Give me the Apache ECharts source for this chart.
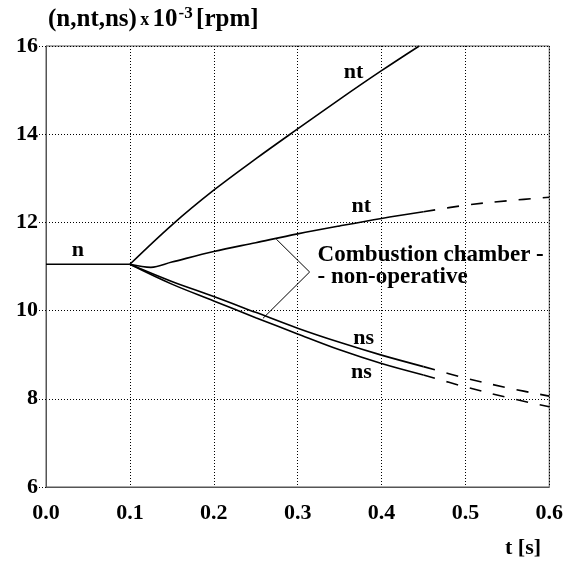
<!DOCTYPE html>
<html>
<head>
<meta charset="utf-8">
<script src="https://cdn.jsdelivr.net/npm/echarts@6/dist/echarts.min.js"></script>
<style>
  html, body { margin: 0; padding: 0; background: #fff; }
  #main { width: 566px; height: 563px; }
</style>
</head>
<body>
<div id="main"></div>
<script>
// time axis [s] and speeds [rpm x 10^-3]
var tN = [0, 0.1];
var nVals = [11.05, 11.05];

var tNtUp = [0.1, 0.15, 0.2, 0.25, 0.3, 0.35, 0.4, 0.445];
var ntUpVals = [11.05, 11.94, 12.73, 13.44, 14.12, 14.79, 15.44, 16.0];

var tNtLow = [0.1, 0.125, 0.15, 0.2, 0.25, 0.3, 0.35, 0.4, 0.45];
var ntLowVals = [11.05, 10.98, 11.1, 11.34, 11.54, 11.74, 11.92, 12.09, 12.24];
var tNtLowDash = [0.45, 0.5, 0.55, 0.6];
var ntLowDashVals = [12.24, 12.39, 12.49, 12.57];

var tNs = [0.1, 0.15, 0.2, 0.25, 0.3, 0.35, 0.4, 0.45];
var nsUpVals = [11.05, 10.66, 10.32, 9.96, 9.6, 9.28, 8.99, 8.73];
var nsLowVals = [11.05, 10.6, 10.22, 9.84, 9.47, 9.11, 8.8, 8.54];
var tNsDash = [0.45, 0.5, 0.55, 0.6];
var nsUpDashVals = [8.73, 8.47, 8.25, 8.06];
var nsLowDashVals = [8.54, 8.27, 8.03, 7.82];

// bracket pointing at the curves of the non-operative case
var tBracket = [0.2746, 0.3143, 0.2587];
var bracketVals = [11.62, 10.875, 9.825];

var xTicks = ['0.0', '0.1', '0.2', '0.3', '0.4', '0.5', '0.6'];

var FONT = '"Liberation Serif", "Times New Roman", serif';

function zip(xs, ys) {
  return xs.map(function (x, i) { return [x, ys[i]]; });
}

var myChart = echarts.init(document.getElementById('main'));

var solid = { color: '#000', width: 1.6, type: 'solid' };
var dashed = { color: '#000', width: 1.6, type: [12, 12] };

function lineSeries(data, style) {
  return {
    type: 'line',
    data: data,
    symbol: 'none',
    smooth: 0.35,
    lineStyle: style,
    silent: true
  };
}

var labelFont = { fontFamily: FONT, fontWeight: 'bold', fontSize: 22, color: '#000' };

var option = {
  animation: false,
  backgroundColor: '#fff',
  grid: {
    left: 46, right: 16, top: 46, bottom: 76,
    show: true, borderColor: '#555', borderWidth: 1
  },
  xAxis: {
    type: 'value',
    min: 0, max: 0.6, interval: 0.1,
    axisLine: { show: true, lineStyle: { color: '#555', width: 1 } },
    axisTick: { show: false },
    axisLabel: {
      margin: 15,
      fontFamily: FONT, fontWeight: 'bold', fontSize: 22, color: '#000',
      formatter: function (v) { return xTicks[Math.round(v * 10)]; }
    },
    splitLine: { show: true, lineStyle: { color: '#000', width: 1, type: [1, 2] } }
  },
  yAxis: {
    type: 'value',
    min: 6, max: 16, interval: 2,
    axisLine: { show: true, lineStyle: { color: '#555', width: 1 } },
    axisTick: { show: true, length: 7, lineStyle: { color: '#000', type: [1, 2] } },
    axisLabel: {
      margin: 8,
      fontFamily: FONT, fontWeight: 'bold', fontSize: 22, color: '#000'
    },
    splitLine: { show: true, lineStyle: { color: '#000', width: 1, type: [1, 2] } }
  },
  graphic: [
    {
      type: 'text',
      left: 48, top: 5,
      style: {
        text: '{b|(n,nt,ns)} {s|x} {b|10}{sup|-3} {b|[rpm]}',
        rich: {
          b: { fontFamily: FONT, fontWeight: 'bold', fontSize: 25, fill: '#000', lineHeight: 30 },
          s: { fontFamily: FONT, fontWeight: 'bold', fontSize: 18, fill: '#000', lineHeight: 30 },
          sup: { fontFamily: FONT, fontWeight: 'bold', fontSize: 17, fill: '#000', verticalAlign: 'top', lineHeight: 30, padding: [0, 0, 0, 1] }
        }
      }
    },
    {
      type: 'text',
      left: 505, top: 537,
      style: { text: 't [s]', font: 'bold 22px ' + FONT, fill: '#000' }
    }
  ],
  series: [
    lineSeries(zip(tN, nVals), solid),
    lineSeries(zip(tNtUp, ntUpVals), solid),
    lineSeries(zip(tNtLow, ntLowVals), solid),
    lineSeries(zip(tNtLowDash, ntLowDashVals), dashed),
    lineSeries(zip(tNs, nsUpVals), solid),
    lineSeries(zip(tNsDash, nsUpDashVals), dashed),
    lineSeries(zip(tNs, nsLowVals), solid),
    lineSeries(zip(tNsDash, nsLowDashVals), dashed),
    {
      type: 'line',
      data: zip(tBracket, bracketVals),
      symbol: 'none',
      smooth: false,
      lineStyle: { color: '#000', width: 1 },
      silent: true
    },
    {
      type: 'scatter',
      symbolSize: 0,
      silent: true,
      itemStyle: { opacity: 1 },
      label: Object.assign({ show: true, position: 'inside', align: 'center', verticalAlign: 'middle' }, labelFont),
      data: [
        { value: [0.038, 11.37], label: { formatter: 'n' } },
        { value: [0.3667, 15.41], label: { formatter: 'nt' } },
        { value: [0.376, 12.37], label: { formatter: 'nt' } },
        { value: [0.3786, 9.38], label: { formatter: 'ns' } },
        { value: [0.376, 8.59], label: { formatter: 'ns' } },
        {
          value: [0.3238, 11.0],
          label: {
            formatter: 'Combustion chamber -\n- non-operative',
            align: 'left', lineHeight: 22, fontSize: 23
          }
        }
      ]
    }
  ]
};

myChart.setOption(option);
</script>
</body>
</html>
